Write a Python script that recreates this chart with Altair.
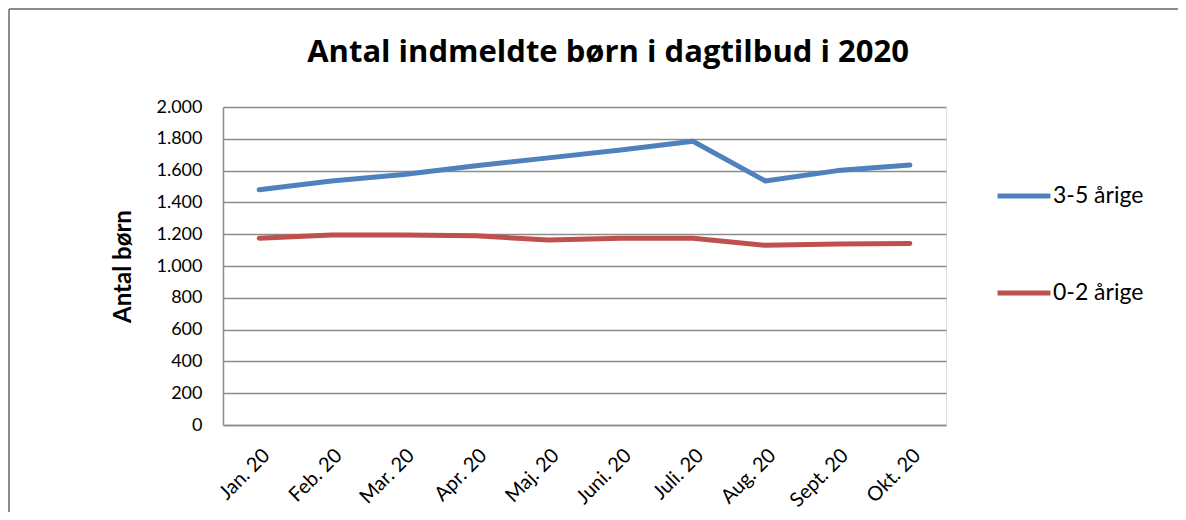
import altair as alt
import pandas as pd

title_text = "Antal indmeldte børn i dagtilbud i 2020"
months = ["Jan. 20", "Feb. 20", "Mar. 20", "Apr. 20", "Maj. 20",
          "Juni. 20", "Juli. 20", "Aug. 20", "Sept. 20", "Okt. 20"]
series_names = ["3-5 årige", "0-2 årige"]
vals_3_5 = [1480, 1535, 1575, 1630, 1680, 1730, 1785, 1535, 1600, 1635]
vals_0_2 = [1175, 1195, 1195, 1190, 1163, 1175, 1175, 1130, 1138, 1142]
colors = ["#4F81BD", "#C0504D"]

rows = []
for m, v in zip(months, vals_3_5):
    rows.append({"Måned": m, "Gruppe": series_names[0], "Antal": v})
for m, v in zip(months, vals_0_2):
    rows.append({"Måned": m, "Gruppe": series_names[1], "Antal": v})
df = pd.DataFrame(rows)
one = pd.DataFrame({"t": [title_text]})

FONT = "Lato"
GRID = "#8C8C8C"

lines = alt.Chart(df).mark_line(strokeWidth=5, strokeCap="round", strokeJoin="round").encode(
    x=alt.X("Måned:N", sort=months, title=None,
            scale=alt.Scale(paddingInner=0, paddingOuter=0.5),
            axis=alt.Axis(labelAngle=-45, labelFontSize=20, labelColor="black",
                          labelFont=FONT, domainColor=GRID, domainWidth=1.5,
                          ticks=False, labelPadding=20)),
    y=alt.Y("Antal:Q", title="Antal børn",
            scale=alt.Scale(domain=[0, 2000], nice=False),
            axis=alt.Axis(values=list(range(0, 2001, 200)),
                          labelExpr="replace(format(datum.value, ',d'), ',', '.')",
                          labelFontSize=18, labelColor="black", labelFont=FONT,
                          labelPadding=21, ticks=False,
                          domainColor=GRID, domainWidth=1.5,
                          gridColor=GRID, gridWidth=1.5,
                          titleFont=FONT, titleFontSize=24, titleFontWeight="bold",
                          titleColor="black", titlePadding=20)),
    color=alt.Color("Gruppe:N", sort=series_names,
                    scale=alt.Scale(domain=series_names, range=colors),
                    legend=alt.Legend(title=None, orient="none", legendX=772, legendY=60,
                                      symbolType="stroke", symbolSize=2800,
                                      symbolStrokeWidth=5, labelFontSize=23,
                                      labelFont=FONT, labelColor="black",
                                      rowPadding=56, labelOffset=0)),
)

title_mark = alt.Chart(one).mark_text(
    font="Open Sans", fontSize=31, fontWeight="bold", color="black",
    align="center", baseline="alphabetic"
).encode(text="t:N", x=alt.value(385), y=alt.value(-45))

frame_top = alt.Chart(one).mark_rule(color="#8C8C8C", strokeWidth=2).encode(
    x=alt.value(-214), x2=alt.value(1000), y=alt.value(-98))
frame_left = alt.Chart(one).mark_rule(color="#8C8C8C", strokeWidth=2).encode(
    x=alt.value(-214), y=alt.value(-98), y2=alt.value(500))

chart = alt.layer(frame_top, frame_left, title_mark, lines).properties(
    width=723, height=318,
    autosize=alt.AutoSizeParams(type="none"),
    padding={"left": 215, "top": 99, "right": 232, "bottom": 87},
).configure_view(stroke=None).configure(background="white")

chart.save("out.html", embed_options={"renderer": "svg", "actions": False})
